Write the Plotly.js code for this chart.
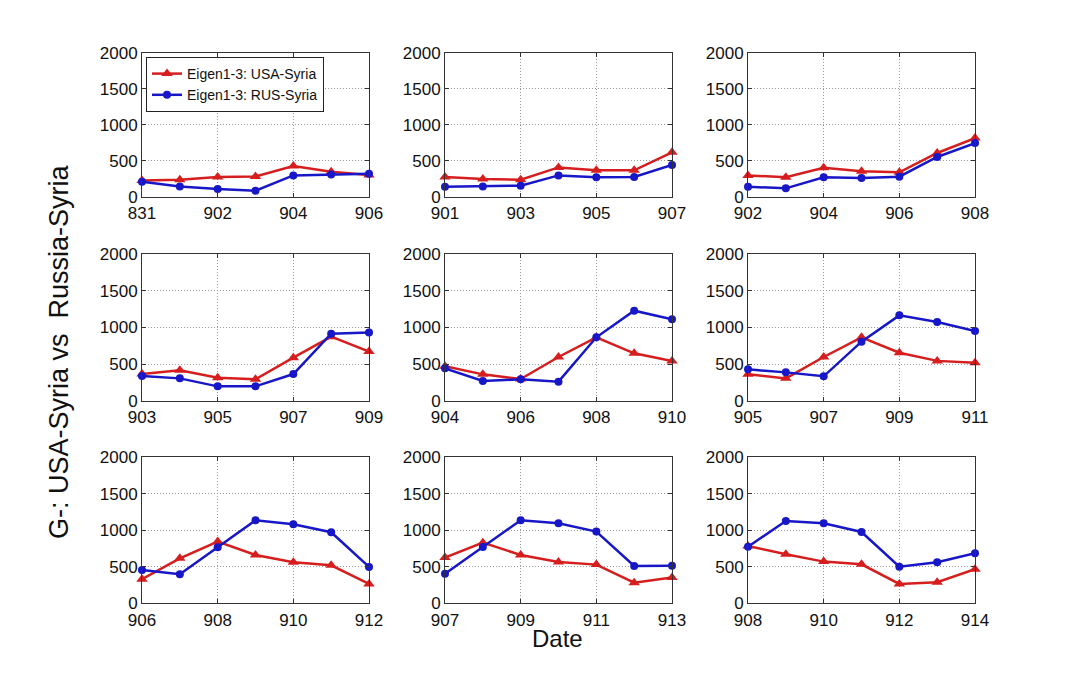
<!DOCTYPE html>
<html>
<head>
<meta charset="utf-8">
<script src="https://cdn.plot.ly/plotly-3.0.1.min.js"></script>
<style>html,body{margin:0;padding:0;background:#fff;}#chart{width:1082px;height:678px;}</style>
</head>
<body>
<div id="chart"></div>
<script>
// All dates (MMDD style labels) covered by the sliding 7-day windows
const allDates = ['831','901','902','903','904','905','906','907','908','909','910','911','912','913','914'];

// Eigen1-3: USA-Syria, one array per window (window k starts at allDates[k])
const usa1 = [225, 235, 272, 282, 426, 347, 300];
const usa2 = [273, 245, 236, 407, 366, 366, 616];
const usa3 = [296, 269, 403, 352, 338, 607, 814];
const usa4 = [364, 415, 314, 292, 588, 875, 672];
const usa5 = [470, 360, 296, 597, 866, 647, 542];
const usa6 = [360, 305, 597, 866, 656, 544, 517];
const usa7 = [329, 616, 845, 662, 562, 520, 265];
const usa8 = [626, 831, 662, 566, 530, 283, 352];
const usa9 = [785, 671, 571, 534, 265, 288, 466];

// Eigen1-3: RUS-Syria
const rus1 = [208, 143, 106, 83, 296, 310, 320];
const rus2 = [139, 143, 153, 296, 269, 273, 440];
const rus3 = [139, 116, 269, 259, 278, 552, 745];
const rus4 = [337, 305, 196, 196, 364, 916, 930];
const rus5 = [442, 269, 292, 260, 866, 1230, 1112];
const rus6 = [428, 387, 333, 806, 1166, 1075, 952];
const rus7 = [457, 397, 767, 1137, 1082, 973, 498];
const rus8 = [406, 772, 1137, 1096, 982, 511, 516];
const rus9 = [776, 1128, 1096, 977, 502, 562, 685];

const usaSeries = [usa1, usa2, usa3, usa4, usa5, usa6, usa7, usa8, usa9];
const rusSeries = [rus1, rus2, rus3, rus4, rus5, rus6, rus7, rus8, rus9];
const windowStarts = [0, 1, 2, 3, 4, 5, 6, 7, 8];
const yTicks = [0, 500, 1000, 1500, 2000];
const usaName = 'Eigen1-3: USA-Syria';
const rusName = 'Eigen1-3: RUS-Syria';

const W = 1082, H = 678;
const colLeft = [142, 445, 748], plotW = 227;
const rowTop = [52.7, 254.3, 457.3], rowBot = [196.7, 400.7, 603.3];

const RED = '#d61e1e', BLUE = '#1717c8';
const FONT = 'Liberation Sans, Arial, sans-serif';

const traces = [];
const layout = {
  width: W, height: H,
  margin: {l: 0, r: 0, t: 0, b: 0},
  paper_bgcolor: '#fff', plot_bgcolor: '#fff',
  font: {family: FONT, color: '#111', size: 17},
  showlegend: true,
  legend: {
    x: 146 / W, y: 1 - 57 / H, xanchor: 'left', yanchor: 'top',
    bgcolor: '#fff', bordercolor: '#222', borderwidth: 1,
    font: {family: FONT, size: 14, color: '#111'},
    tracegroupgap: 0, itemwidth: 30
  },
  annotations: [
    {text: 'G-: USA-Syria vs\u00a0 Russia-Syria', xref: 'paper', yref: 'paper',
     x: 59 / W, y: 1 - 352 / H, showarrow: false, textangle: -90,
     font: {family: FONT, size: 27, color: '#111'}, xanchor: 'center', yanchor: 'middle'},
    {text: 'Date', xref: 'paper', yref: 'paper', x: 557 / W, y: 1 - 638 / H,
     showarrow: false, font: {family: FONT, size: 24, color: '#111'},
     xanchor: 'center', yanchor: 'middle'}
  ]
};

for (let k = 0; k < 9; k++) {
  const r = Math.floor(k / 3), c = k % 3;
  const idx = k === 0 ? '' : String(k + 1);
  const dates = allDates.slice(windowStarts[k], windowStarts[k] + 7);
  const tickv = dates.filter((d, i) => i % 2 === 0);
  traces.push({
    x: dates, y: usaSeries[k], type: 'scatter', mode: 'lines+markers',
    name: usaName, showlegend: k === 0, legendgroup: 'usa',
    xaxis: 'x' + idx, yaxis: 'y' + idx, cliponaxis: false,
    line: {color: RED, width: 2.5},
    marker: {symbol: 'triangle-up', size: 10, color: RED}
  });
  traces.push({
    x: dates, y: rusSeries[k], type: 'scatter', mode: 'lines+markers',
    name: rusName, showlegend: k === 0, legendgroup: 'rus',
    xaxis: 'x' + idx, yaxis: 'y' + idx, cliponaxis: false,
    line: {color: BLUE, width: 2.5},
    marker: {symbol: 'circle', size: 8, color: BLUE}
  });
  layout['xaxis' + idx] = {
    type: 'category', domain: [colLeft[c] / W, (colLeft[c] + plotW) / W],
    anchor: 'y' + idx, range: [0, 6], tickvals: tickv, ticktext: tickv,
    showgrid: true, gridcolor: '#999', griddash: '1px,2px', gridwidth: 1,
    showline: true, linecolor: '#333', linewidth: 1, mirror: 'ticks',
    ticks: 'inside', ticklen: 4, tickcolor: '#333', ticklabelstandoff: 1,
    tickfont: {family: FONT, size: 17, color: '#111'}, zeroline: false, fixedrange: true
  };
  layout['yaxis' + idx] = {
    domain: [1 - rowBot[r] / H, 1 - rowTop[r] / H],
    anchor: 'x' + idx, range: [0, 2000], tickvals: yTicks,
    showgrid: true, gridcolor: '#999', griddash: '1px,2px', gridwidth: 1,
    showline: true, linecolor: '#333', linewidth: 1, mirror: 'ticks',
    ticks: 'inside', ticklen: 4, tickcolor: '#333',
    tickfont: {family: FONT, size: 17, color: '#111'}, zeroline: false, fixedrange: true
  };
}

Plotly.newPlot('chart', traces, layout, {staticPlot: true, displayModeBar: false});
</script>
</body>
</html>
